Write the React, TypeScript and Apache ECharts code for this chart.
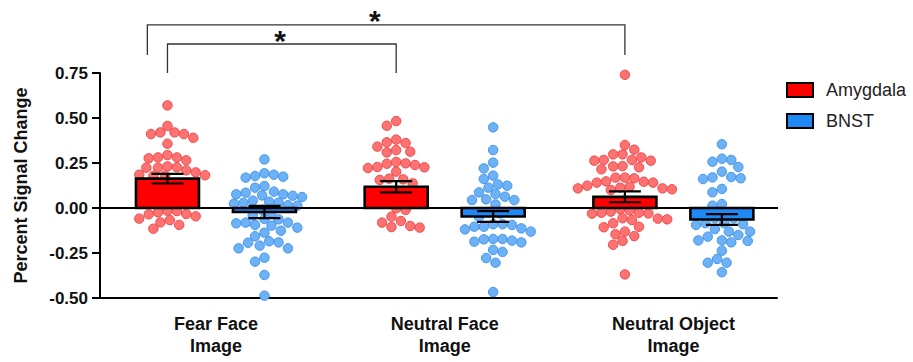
import { useEffect, useRef } from 'react';
import * as echarts from 'echarts';

// ---------- data ----------
const categories = ['Fear Face\nImage', 'Neutral Face\nImage', 'Neutral Object\nImage'];
const regionNames = ['Amygdala', 'BNST'];

const amygdalaMean = [0.163, 0.118, 0.062];
const amygdalaSem = [0.027, 0.031, 0.030];
const bnstMean = [-0.022, -0.047, -0.064];
const bnstSem = [0.034, 0.030, 0.030];

const fearAmygdala = [0.57, 0.456, 0.42, 0.42, 0.411, 0.411, 0.39, 0.357, 0.294, 0.281, 0.281, 0.276, 0.265, 0.231, 0.226, 0.224, 0.224, 0.209, 0.198, 0.185, 0.18, 0.178, 0.182, 0.12, 0.06, -0.015, -0.017, -0.024, -0.033, -0.035, -0.046, -0.059, -0.067, -0.08, -0.094, -0.115];
const fearBnst = [0.27, 0.193, 0.185, 0.178, 0.174, 0.169, 0.122, 0.113, 0.091, 0.085, 0.076, 0.076, 0.07, 0.068, 0.061, 0.041, 0.035, 0.03, 0.028, 0.024, 0.015, 0.013, -0.01, -0.024, -0.041, -0.061, -0.063, -0.081, -0.081, -0.085, -0.094, -0.098, -0.109, -0.126, -0.137, -0.157, -0.185, -0.191, -0.193, -0.209, -0.224, -0.224, -0.276, -0.298, -0.372, -0.487];
const neutralFaceAmygdala = [0.483, 0.457, 0.38, 0.365, 0.361, 0.341, 0.322, 0.313, 0.309, 0.256, 0.248, 0.246, 0.239, 0.228, 0.226, 0.222, 0.202, 0.163, 0.159, 0.156, 0.137, 0.085, 0.04, -0.002, -0.011, -0.048, -0.072, -0.081, -0.1, -0.106, -0.109];
const neutralFaceBnst = [0.448, 0.322, 0.252, 0.22, 0.18, 0.161, 0.131, 0.124, 0.113, 0.087, 0.078, 0.063, 0.048, 0.044, 0.044, 0.02, -0.024, -0.03, -0.05, -0.09, -0.09, -0.094, -0.104, -0.104, -0.113, -0.119, -0.131, -0.172, -0.172, -0.174, -0.181, -0.187, -0.191, -0.233, -0.244, -0.278, -0.304, -0.467];
const neutralObjectAmygdala = [0.74, 0.35, 0.324, 0.298, 0.298, 0.281, 0.267, 0.267, 0.263, 0.263, 0.233, 0.231, 0.226, 0.215, 0.169, 0.169, 0.165, 0.148, 0.146, 0.141, 0.141, 0.124, 0.119, 0.113, 0.109, 0.109, 0.104, 0.1, 0.04, -0.006, -0.013, -0.02, -0.026, -0.026, -0.03, -0.031, -0.057, -0.059, -0.063, -0.067, -0.085, -0.104, -0.107, -0.131, -0.146, -0.156, -0.183, -0.204, -0.369];
const neutralObjectBnst = [0.354, 0.274, 0.267, 0.257, 0.228, 0.202, 0.172, 0.17, 0.165, 0.161, 0.106, 0.087, 0.022, 0.013, -0.03, -0.057, -0.057, -0.085, -0.085, -0.09, -0.094, -0.117, -0.131, -0.131, -0.15, -0.159, -0.18, -0.18, -0.183, -0.191, -0.237, -0.283, -0.304, -0.304, -0.357];

const amygdalaPoints = [fearAmygdala, neutralFaceAmygdala, neutralObjectAmygdala];
const bnstPoints = [fearBnst, neutralFaceBnst, neutralObjectBnst];

// ---------- layout / style constants ----------
const FONT = '"Liberation Sans", Arial, Helvetica, sans-serif';
const X_MIN = -0.507;
const X_MAX = 2.453;
const BAR_OFFSET = 0.212; // in category units
const BAR_WIDTH = 63; // px
const CAP_WIDTH = 32; // px
const DOT_R = 4.7;
const DOT_D = 9.4;
const RED = '#FF0000';
const BLUE = '#1E88F5';
const DOT_STYLE = [
  { fill: '#FF7272', stroke: '#EE4848' },
  { fill: '#6DB1F7', stroke: '#4294EC' },
];
const BAR_COLORS = [RED, BLUE];

// significance brackets (x in category units, y in data units)
const brackets = [
  { from: -0.30, to: 2 - BAR_OFFSET, top: 1.017, leg: 0.85, star: 0.695 },
  { from: -BAR_OFFSET, to: 1 - BAR_OFFSET, top: 0.911, leg: 0.75, star: 0.28 },
];

const swarmCache = new Map<string, number[]>();
function swarm(values: number[], pxPerUnit: number, key: string): number[] {
  const k = key + '|' + pxPerUnit.toFixed(3);
  const cached = swarmCache.get(k);
  if (cached) return cached;
  const order = values.map((_, i) => i).sort((a, b) => values[b] - values[a]);
  const placed: { x: number; y: number }[] = [];
  const out = new Array(values.length).fill(0);
  const step = DOT_D / 4;
  let flip = false;
  for (const i of order) {
    const y = -values[i] * pxPerUnit;
    let chosen = 0;
    for (let s = 0; s < 120; s++) {
      const cands = s === 0 ? [0] : flip ? [-s * step, s * step] : [s * step, -s * step];
      let found: number | null = null;
      for (const c of cands) {
        if (placed.every((p) => (p.x - c) ** 2 + (p.y - y) ** 2 >= DOT_D * DOT_D - 0.01)) {
          found = c;
          break;
        }
      }
      if (found !== null) {
        chosen = found;
        break;
      }
    }
    flip = !flip;
    placed.push({ x: chosen, y });
    out[i] = chosen;
  }
  swarmCache.set(k, out);
  return out;
}

function buildOption(): any {
  const means = [amygdalaMean, bnstMean];
  const sems = [amygdalaSem, bnstSem];
  const pts = [amygdalaPoints, bnstPoints];
  const series: any[] = [];

  // dots
  regionNames.forEach((name, r) => {
    const sign = r === 0 ? -1 : 1;
    const data: number[][] = [];
    pts[r].forEach((vals, g) => {
      vals.forEach((v, i) => data.push([g + sign * BAR_OFFSET, v, g, i]));
    });
    series.push({
      type: 'custom',
      name,
      z: 1,
      clip: false,
      data,
      encode: { x: 0, y: 1 },
      renderItem: (params: any, api: any) => {
        const pxY = api.size([0, 1])[1];
        const g = api.value(2);
        const i = api.value(3);
        const offs = swarm(pts[r][g], pxY, r + '-' + g);
        const c = api.coord([api.value(0), api.value(1)]);
        return {
          type: 'circle',
          shape: { cx: c[0] + offs[i], cy: c[1], r: DOT_R },
          style: { fill: DOT_STYLE[r].fill, stroke: DOT_STYLE[r].stroke, lineWidth: 1 },
        };
      },
    });
  });

  // zero line
  series.push({
    type: 'line',
    name: 'zero',
    z: 2,
    clip: false,
    symbol: 'none',
    silent: true,
    data: [[X_MIN, 0], [X_MAX + 0.022, 0]],
    lineStyle: { color: '#000', width: 2 },
  });

  // bars
  regionNames.forEach((name, r) => {
    const sign = r === 0 ? -1 : 1;
    series.push({
      type: 'custom',
      name,
      z: 3,
      clip: false,
      data: means[r].map((m, g) => [g + sign * BAR_OFFSET, m]),
      encode: { x: 0, y: 1 },
      renderItem: (params: any, api: any) => {
        const x = api.value(0);
        const p0 = api.coord([x, 0]);
        const p1 = api.coord([x, api.value(1)]);
        return {
          type: 'rect',
          shape: {
            x: p0[0] - BAR_WIDTH / 2,
            y: Math.min(p0[1], p1[1]),
            width: BAR_WIDTH,
            height: Math.abs(p1[1] - p0[1]),
          },
          style: { fill: BAR_COLORS[r], stroke: '#000', lineWidth: 2.6 },
        };
      },
    });
  });

  // error bars
  regionNames.forEach((name, r) => {
    const sign = r === 0 ? -1 : 1;
    series.push({
      type: 'custom',
      name,
      z: 4,
      clip: false,
      data: means[r].map((m, g) => [g + sign * BAR_OFFSET, m, sems[r][g]]),
      encode: { x: 0, y: 1 },
      renderItem: (params: any, api: any) => {
        const x = api.value(0);
        const m = api.value(1);
        const s = api.value(2);
        const hi = api.coord([x, m + s]);
        const lo = api.coord([x, m - s]);
        const st = { stroke: '#000', lineWidth: 2.2 };
        return {
          type: 'group',
          children: [
            { type: 'line', shape: { x1: hi[0], y1: hi[1], x2: lo[0], y2: lo[1] }, style: st },
            { type: 'line', shape: { x1: hi[0] - CAP_WIDTH / 2, y1: hi[1], x2: hi[0] + CAP_WIDTH / 2, y2: hi[1] }, style: st },
            { type: 'line', shape: { x1: lo[0] - CAP_WIDTH / 2, y1: lo[1], x2: lo[0] + CAP_WIDTH / 2, y2: lo[1] }, style: st },
          ],
        };
      },
    });
  });

  // brackets
  series.push({
    type: 'custom',
    name: 'brackets',
    z: 5,
    clip: false,
    silent: true,
    data: brackets.map((b) => [b.from, b.top, b.to, b.leg, b.star]),
    encode: { x: 0, y: 1 },
    renderItem: (params: any, api: any) => {
      const a = api.coord([api.value(0), api.value(3)]);
      const b = api.coord([api.value(0), api.value(1)]);
      const c = api.coord([api.value(2), api.value(1)]);
      const d = api.coord([api.value(2), api.value(3)]);
      const s = api.coord([api.value(4), api.value(1)]);
      return {
        type: 'group',
        children: [
          {
            type: 'polyline',
            shape: { points: [a, b, c, d] },
            style: { stroke: '#333', lineWidth: 1.3, fill: 'none' },
          },
          {
            type: 'text',
            style: {
              text: '*',
              x: s[0],
              y: s[1] - 4,
              font: `bold 30px ${FONT}`,
              fill: '#111',
              align: 'center',
              verticalAlign: 'middle',
            },
          },
        ],
      };
    },
  });

  return {
    animation: false,
    backgroundColor: '#fff',
    textStyle: { fontFamily: FONT },
    grid: { left: 100, right: 136, top: 73, bottom: 64, containLabel: false },
    legend: {
      orient: 'vertical',
      left: 781,
      top: 76,
      itemWidth: 26,
      itemHeight: 14,
      itemGap: 13,
      selectedMode: false,
      textStyle: { fontSize: 18, color: '#222', fontFamily: FONT, padding: [0, 0, 0, 8] },
      data: regionNames.map((name, r) => ({
        name,
        icon: 'rect',
        itemStyle: { color: BAR_COLORS[r], borderColor: '#000', borderWidth: 2 },
      })),
    },
    xAxis: {
      type: 'value',
      min: X_MIN,
      max: X_MAX,
      axisLine: { show: true, onZero: false, lineStyle: { color: '#000', width: 2 } },
      axisTick: { show: false },
      splitLine: { show: false },
      axisLabel: {
        customValues: [0, 1, 2],
        formatter: (v: number) => categories[Math.round(v)] ?? '',
        fontSize: 18,
        fontWeight: 'bold',
        color: '#111',
        lineHeight: 22,
        margin: 15,
        fontFamily: FONT,
      },
    },
    yAxis: {
      type: 'value',
      min: -0.5,
      max: 0.75,
      interval: 0.25,
      name: 'Percent Signal Change',
      nameLocation: 'middle',
      nameGap: 70,
      nameTextStyle: { fontSize: 18, fontWeight: 'bold', color: '#111', fontFamily: FONT },
      axisLine: { show: true, onZero: false, lineStyle: { color: '#000', width: 2 } },
      axisTick: { show: true, length: 8, lineStyle: { color: '#000', width: 2 } },
      splitLine: { show: false },
      axisLabel: {
        formatter: (v: number) => v.toFixed(2),
        fontSize: 17,
        fontWeight: 'bold',
        color: '#111',
        margin: 12,
        fontFamily: FONT,
      },
    },
    series,
  };
}

export default function App() {
  const ref = useRef<HTMLDivElement>(null);
  useEffect(() => {
    if (!ref.current) return;
    const chart = echarts.init(ref.current, undefined, { renderer: 'svg' });
    chart.setOption(buildOption());
    return () => chart.dispose();
  }, []);
  return (
    <div
      ref={ref}
      style={{ position: 'fixed', left: 0, top: 0, width: 913, height: 362, background: '#fff' }}
    />
  );
}
